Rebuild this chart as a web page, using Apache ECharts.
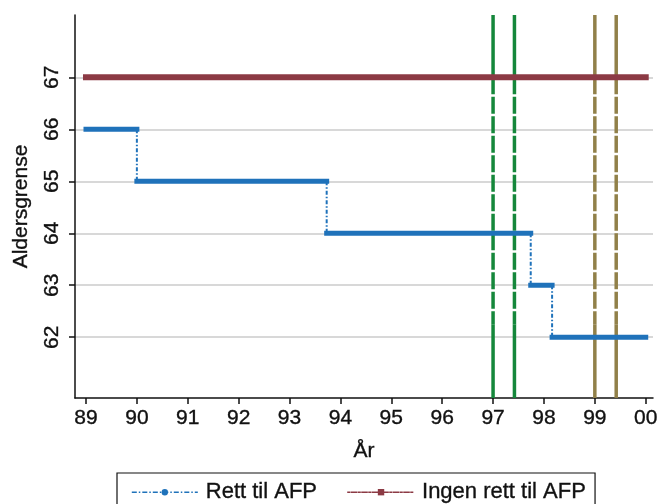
<!DOCTYPE html>
<html>
<head>
<meta charset="utf-8">
<script src="https://cdn.jsdelivr.net/npm/echarts@6/dist/echarts.min.js"></script>
<style>
html,body{margin:0;padding:0;background:#fff;}
#chart{width:659px;height:504px;}
</style>
</head>
<body>
<div id="chart"></div>
<script>
// ---- data ----
const xTicks = [89, 90, 91, 92, 93, 94, 95, 96, 97, 98, 99, 100];
const xTickLabels = ['89', '90', '91', '92', '93', '94', '95', '96', '97', '98', '99', '00'];
const yTicks = [62, 63, 64, 65, 66, 67];
// "Rett til AFP": step breakpoints (year) and levels between them
const rettBreaks = [89, 90, 93.73, 97.74, 98.16, 100];
const rettLevels = [66, 65, 64, 63, 62];
// "Ingen rett til AFP": constant level
const ingenStart = 89, ingenEnd = 100, ingenLevel = 67;
// vertical reference lines
const greenLines = [97, 97.42];
const oliveLines = [99, 99.42];
const dashFrom = 67, dashTo = 62.25;

const X_MIN = 88.784, X_MAX = 100.143;
const Y_MIN = 60.83, Y_MAX = 68.2;

const BLUE = '#1f72ba', RED = '#8c3a44', GREEN = '#15873b', OLIVE = '#918049';
const FONT = 'Liberation Sans, Arial, Helvetica, sans-serif';
const TXT = { color: '#111', fontFamily: FONT, textBorderColor: '#111', textBorderWidth: 0.35 };

// build thick step segments and thin connectors
const thick = [];
for (let i = 0; i < rettLevels.length; i++) {
  thick.push([rettBreaks[i], rettLevels[i]]);
  thick.push([rettBreaks[i + 1], rettLevels[i]]);
  thick.push([rettBreaks[i + 1], '-']);
}
const thin = [];
for (let i = 0; i < rettLevels.length - 1; i++) {
  thin.push([rettBreaks[i + 1], rettLevels[i]]);
  thin.push([rettBreaks[i + 1], rettLevels[i + 1]]);
  thin.push([rettBreaks[i + 1], '-']);
}

function vline(x, color) {
  return [
    { type: 'line', silent: true, symbol: 'none', z: 2, clip: false,
      data: [[x, Y_MAX], [x, dashFrom]],
      lineStyle: { color: color, width: 3.5, cap: 'butt' } },
    { type: 'line', silent: true, symbol: 'none', z: 2,
      data: [[x, dashFrom], [x, dashTo]],
      lineStyle: { color: color, width: 3.5, type: [17, 2.5], cap: 'butt' } },
    { type: 'line', silent: true, symbol: 'none', z: 2,
      data: [[x, dashTo], [x, Y_MIN]],
      lineStyle: { color: color, width: 3.5, cap: 'butt' } }
  ];
}

let series = [];
greenLines.forEach(x => { series = series.concat(vline(x, GREEN)); });
oliveLines.forEach(x => { series = series.concat(vline(x, OLIVE)); });

series.push({
  name: 'Rett til AFP', type: 'line', symbol: 'circle', showSymbol: false, z: 3,
  data: thin, connectNulls: false,
  itemStyle: { color: BLUE },
  lineStyle: { color: BLUE, width: 2, type: [4, 2, 1.5, 2] }
});
series.push({
  name: 'rett_thick', type: 'line', symbol: 'none', z: 4,
  data: thick, connectNulls: false,
  lineStyle: { color: BLUE, width: 5, cap: 'square' }
});
series.push({
  name: 'Ingen rett til AFP', type: 'line', symbol: 'rect', showSymbol: false, z: 4,
  data: [[ingenStart, ingenLevel], [ingenEnd, ingenLevel]],
  itemStyle: { color: RED },
  lineStyle: { color: RED, width: 6, cap: 'square' }
});

const chart = echarts.init(document.getElementById('chart'), null, { renderer: 'canvas' });
chart.setOption({
  animation: false,
  backgroundColor: '#fff',
  textStyle: { fontFamily: FONT },
  grid: { left: 75, right: 6, top: 15, bottom: 106, containLabel: false, outerBoundsMode: 'none' },
  xAxis: {
    type: 'value', min: X_MIN, max: X_MAX,
    name: 'År', nameLocation: 'middle', nameGap: 43,
    nameTextStyle: Object.assign({ fontSize: 21 }, TXT),
    axisLine: { show: true, onZero: false, lineStyle: { color: '#111', width: 1.5 } },
    axisTick: { show: true, length: 6, lineStyle: { color: '#111', width: 1.5 }, customValues: xTicks },
    axisLabel: Object.assign({ customValues: xTicks, margin: 10, fontSize: 21,
      formatter: v => xTickLabels[xTicks.indexOf(Math.round(v))] }, TXT),
    splitLine: { show: false }
  },
  yAxis: {
    type: 'value', min: Y_MIN, max: Y_MAX,
    name: 'Aldersgrense', nameLocation: 'middle', nameGap: 43,
    nameTextStyle: Object.assign({ fontSize: 21 }, TXT),
    axisLine: { show: true, onZero: false, lineStyle: { color: '#111', width: 1.5 } },
    axisTick: { show: true, length: 6, lineStyle: { color: '#111', width: 1.5 }, customValues: yTicks },
    axisLabel: Object.assign({ customValues: yTicks, margin: 12, rotate: 90, fontSize: 21 }, TXT),
    splitLine: { show: true, lineStyle: { color: '#cbcbcb', width: 1.5 } }
  },
  legend: {
    show: true, left: 117, top: 473, orient: 'horizontal',
    padding: [8, 9, 10, 14], itemGap: 30,
    itemWidth: 66, itemHeight: 8,
    borderColor: '#111', borderWidth: 1.2, borderRadius: 0,
    textStyle: Object.assign({ fontSize: 22, padding: [0, 0, 0, 3] }, TXT),
    data: [
      { name: 'Rett til AFP', lineStyle: { width: 1.6, type: [5, 2, 1.5, 2], color: BLUE }, itemStyle: { color: BLUE } },
      { name: 'Ingen rett til AFP', lineStyle: { width: 1.6, type: [1.5, 2, 5, 2], color: RED }, itemStyle: { color: RED } }
    ]
  },
  series: series
});
</script>
</body>
</html>
